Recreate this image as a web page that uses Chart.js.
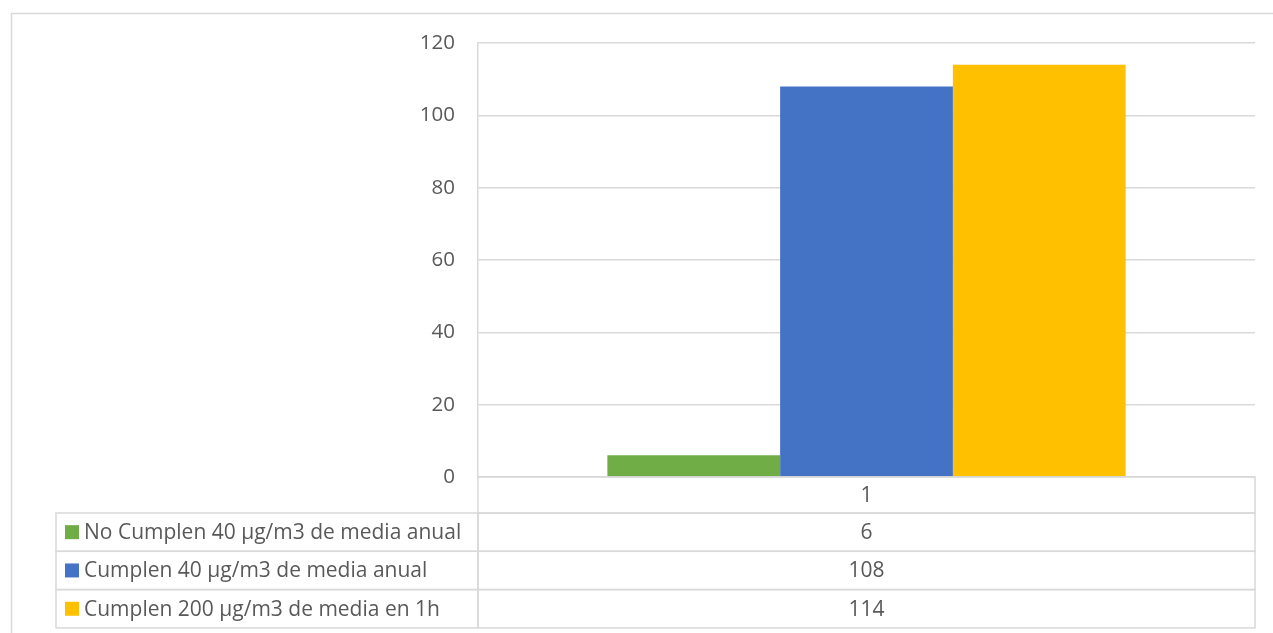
<!DOCTYPE html>
<html>
<head>
  <meta charset="utf-8">
  <title>Cumplimiento NO2</title>
  <script src="https://cdnjs.cloudflare.com/ajax/libs/Chart.js/4.4.0/chart.umd.min.js"></script>
  <style>
    html, body {
      margin: 0;
      padding: 0;
      background-color: #ffffff;
      overflow: hidden;
    }
    #wrap {
      width: 1273px;
      height: 633px;
    }
  </style>
</head>
<body>
  <div id="wrap">
    <canvas id="myChart"></canvas>
  </div>

  <script>
    // datos del gráfico
    const categories = ['1'];
    const seriesNames = [
      'No Cumplen 40 µg/m3 de media anual',
      'Cumplen 40 µg/m3 de media anual',
      'Cumplen 200 µg/m3 de media en 1h'
    ];
    const noCumplenAnual = [6];
    const cumplenAnual = [108];
    const cumplen1h = [114];
    const yTicks = [0, 20, 40, 60, 80, 100, 120];

    const colors = ['#70AD47', '#4472C4', '#FFC000'];
    const gridColor = '#d9d9d9';
    const textColor = '#595959';
    const fontFamily = "'Open Sans', 'Noto Sans', sans-serif";
    const fontSize = 20.5;
    const tableFontSize = 21;

    // marco exterior del gráfico
    const frame = {
      id: 'frame',
      beforeDraw(chart) {
        const c = chart.ctx;
        c.save();
        c.strokeStyle = gridColor;
        c.lineWidth = 1.5;
        c.strokeRect(11.5, 13.5, 1400, 800);
        c.restore();
      }
    };

    // tabla de datos debajo del eje (como en Excel)
    const dataTable = {
      id: 'dataTable',
      afterDraw(chart) {
        const c = chart.ctx;
        const area = chart.chartArea;
        const headH = 36;
        const rowH = 38.3;
        const tableLeft = 56;
        const top = area.bottom;
        c.save();
        c.strokeStyle = gridColor;
        c.lineWidth = 1.5;

        // fila de categorías
        c.strokeRect(area.left, top, area.right - area.left, headH);
        // filas de series
        for (let i = 0; i < chart.data.datasets.length; i++) {
          const y = top + headH + i * rowH;
          c.strokeRect(tableLeft, y, area.left - tableLeft, rowH);
          c.strokeRect(area.left, y, area.right - area.left, rowH);
        }

        c.font = tableFontSize + 'px ' + fontFamily;
        c.fillStyle = textColor;
        c.textBaseline = 'middle';
        const xScale = chart.scales.x;

        // etiquetas de categoría
        c.textAlign = 'center';
        chart.data.labels.forEach((lab, j) => {
          c.fillText(lab, xScale.getPixelForValue(j), top + headH / 2 + 1);
        });

        chart.data.datasets.forEach((ds, i) => {
          const yMid = top + headH + i * rowH + rowH / 2;
          // clave de color
          c.fillStyle = ds.backgroundColor;
          c.fillRect(65, yMid - 7, 14, 14);
          c.fillStyle = textColor;
          c.textAlign = 'left';
          c.fillText(ds.label, 84, yMid + 1);
          c.textAlign = 'center';
          ds.data.forEach((v, j) => {
            c.fillText(String(v), xScale.getPixelForValue(j), yMid + 1);
          });
        });
        c.restore();
      }
    };

    const ctx = document.getElementById('myChart').getContext('2d');
    const myChart = new Chart(ctx, {
      type: 'bar',
      data: {
        labels: categories,
        datasets: [
          { label: seriesNames[0], data: noCumplenAnual, backgroundColor: colors[0] },
          { label: seriesNames[1], data: cumplenAnual, backgroundColor: colors[1] },
          { label: seriesNames[2], data: cumplen1h, backgroundColor: colors[2] }
        ]
      },
      options: {
        responsive: true,
        maintainAspectRatio: false,
        animation: false,
        layout: {
          padding: { left: 0, top: 43, right: 18, bottom: 156 }
        },
        datasets: {
          bar: {
            categoryPercentage: 0.667,
            barPercentage: 1.0,
            borderWidth: 0
          }
        },
        plugins: {
          legend: { display: false },
          tooltip: { enabled: false }
        },
        scales: {
          x: {
            display: false
          },
          y: {
            min: yTicks[0],
            max: yTicks[yTicks.length - 1],
            afterFit(scale) { scale.width = 478; },
            afterBuildTicks(scale) {
              scale.ticks = yTicks.map(v => ({ value: v }));
            },
            border: { display: true, color: gridColor, width: 1.5 },
            grid: {
              color: gridColor,
              lineWidth: 1.5,
              drawTicks: false
            },
            ticks: {
              padding: 23,
              color: textColor,
              font: { family: fontFamily, size: fontSize }
            }
          }
        }
      },
      plugins: [frame, dataTable]
    });
  </script>
</body>
</html>
